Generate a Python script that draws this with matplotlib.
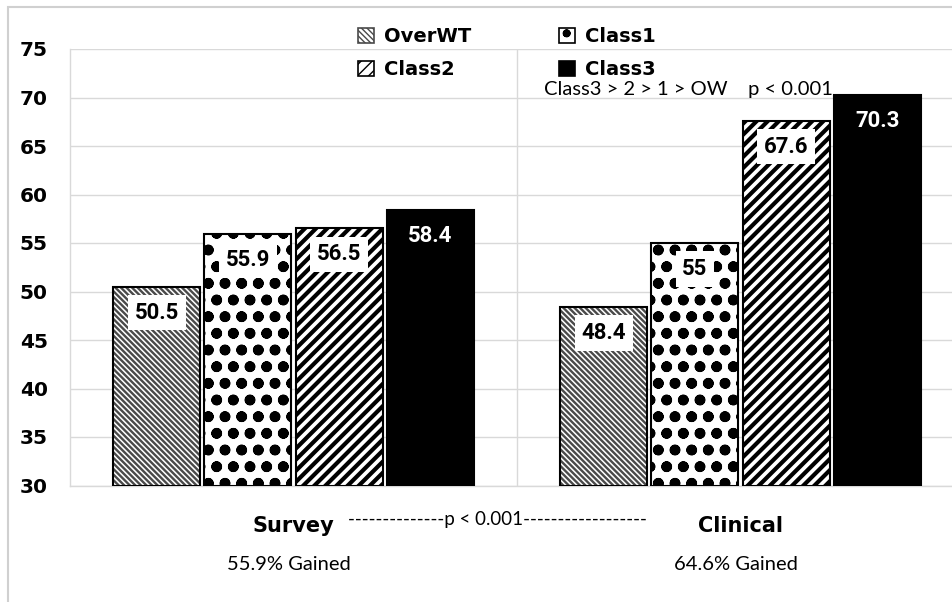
import matplotlib
matplotlib.use("Agg")
import matplotlib.pyplot as plt
from matplotlib.patches import Patch, Rectangle
from matplotlib.transforms import blended_transform_factory
import numpy as np

# data
groups = ["Survey", "Clinical"]
series = ["OverWT", "Class1", "Class2", "Class3"]
overwt = [50.5, 48.4]
class1 = [55.9, 55.0]
class2 = [56.5, 67.6]
class3 = [58.4, 70.3]
gained = ["55.9% Gained", "64.6% Gained"]
yticks = [30, 35, 40, 45, 50, 55, 60, 65, 70, 75]

# fill styles: (face, hatch, hatch colour, hatch linewidth)
styles = {
    "OverWT": ("white", "\\\\\\\\\\\\", "#4a4a4a", 1.7),
    "Class1": ("white", "o.", "black", 3.0),
    "Class2": ("white", "///", "black", 3.0),
    "Class3": ("black", None, "black", 1.0),
}

W, H = 952, 602
fig = plt.figure(figsize=(W / 100, H / 100), dpi=100)
ax = fig.add_axes([70 / W, 1 - 485.5 / H, (964 - 70) / W, (485.5 - 49) / H])


def hatched_bar(x, h, width, name):
    face, hatch, hcol, hlw = styles[name]
    plt.rcParams["hatch.linewidth"] = hlw
    b = ax.bar(x, h, width, bottom=30, color=face, edgecolor=hcol,
               hatch=hatch, linewidth=0, zorder=2)
    for p in b:
        if hasattr(p, "set_hatch_linewidth"):
            p.set_hatch_linewidth(hlw)
    ax.bar(x, h, width, bottom=30, fill=False, edgecolor="black",
           linewidth=1.5, zorder=3)
    return b


x = np.arange(len(groups))
step, width = 0.204, 0.195
all_vals = [overwt, class1, class2, class3]
for i, (name, vals) in enumerate(zip(series, all_vals)):
    xs = x + (i - 1.5) * step
    heights = np.array(vals) - 30
    hatched_bar(xs, heights, width, name)
    for xx, v in zip(xs, vals):
        if name == "Class3":
            ax.annotate(f"{v:g}", (xx, v), xytext=(0, -26), textcoords="offset pixels",
                        ha="center", va="center", fontsize=16, fontweight="bold",
                        family="Roboto", color="white", zorder=5)
        else:
            ax.annotate(f"{v:g}", (xx, v), xytext=(0, -26), textcoords="offset pixels",
                        ha="center", va="center", fontsize=16, fontweight="bold",
                        family="Roboto", color="black", zorder=5,
                        bbox=dict(boxstyle="square,pad=0.3", fc="white", ec="none"))

ax.set_ylim(30, 75)
ax.set_xlim(-0.5, 1.5)
ax.set_yticks(yticks)
ax.set_yticklabels([str(t) for t in yticks], fontsize=14.5, fontweight="bold",
                   family="DejaVu Sans")
ax.set_xticks(x)
ax.set_xticklabels(groups, fontsize=15, fontweight="bold", family="DejaVu Sans")
ax.set_xticks([0.5, 1.5], minor=True)
ax.tick_params(axis="both", which="both", length=0)
ax.tick_params(axis="x", pad=22)
ax.tick_params(axis="y", pad=16)
ax.grid(axis="y", color="#d9d9d9", linewidth=1, zorder=0)
ax.grid(axis="x", which="minor", color="#d9d9d9", linewidth=1, zorder=0)
ax.grid(axis="x", which="major", visible=False)
ax.set_axisbelow(True)
for s in ["top", "right"]:
    ax.spines[s].set_visible(False)
for s in ["left", "bottom"]:
    ax.spines[s].set_color("#d9d9d9")
    ax.spines[s].set_linewidth(1)

# legend (row-wise order in two columns)
def legend_handle(name):
    face, hatch, hcol, hlw = styles[name]
    plt.rcParams["hatch.linewidth"] = min(hlw, 1.5)
    p = Patch(facecolor=face, edgecolor=hcol, hatch=hatch, linewidth=1.2)
    if hasattr(p, "set_hatch_linewidth"):
        p.set_hatch_linewidth(min(hlw, 1.5))
    return p

order = ["OverWT", "Class2", "Class1", "Class3"]
fig.legend([legend_handle(n) for n in order], order, ncol=2, loc="upper left",
           bbox_to_anchor=(358 / W, 1 - 27 / H), frameon=False, borderpad=0,
           borderaxespad=0, handlelength=0.8, handleheight=0.8, handletextpad=0.55,
           columnspacing=4.5, labelspacing=0.72,
           prop=dict(family="DejaVu Sans", weight="bold", size=14))

fig.text(544 / W, 1 - 89 / H, "Class3 > 2 > 1 > OW    p < 0.001", fontsize=14.5,
         family="Lato", ha="left", va="center")
fig.text(348 / W, 1 - 520 / H, "--------------p < 0.001------------------",
         fontsize=13.5, family="Lato", ha="left", va="center")

tr = blended_transform_factory(ax.transData, fig.transFigure)
for xx, g in zip(x, gained):
    ax.text(xx - 0.01, 1 - 565 / H, g, transform=tr, ha="center", va="center",
            fontsize=14.5, family="Lato")

# outer chart border
fig.patches.append(Rectangle((8 / W, -0.1), 1.2, 1 - 6.5 / H + 0.1,
                             transform=fig.transFigure, fill=False,
                             edgecolor="#d0d0d0", linewidth=1.5))

fig.savefig("out.png", dpi=100)
